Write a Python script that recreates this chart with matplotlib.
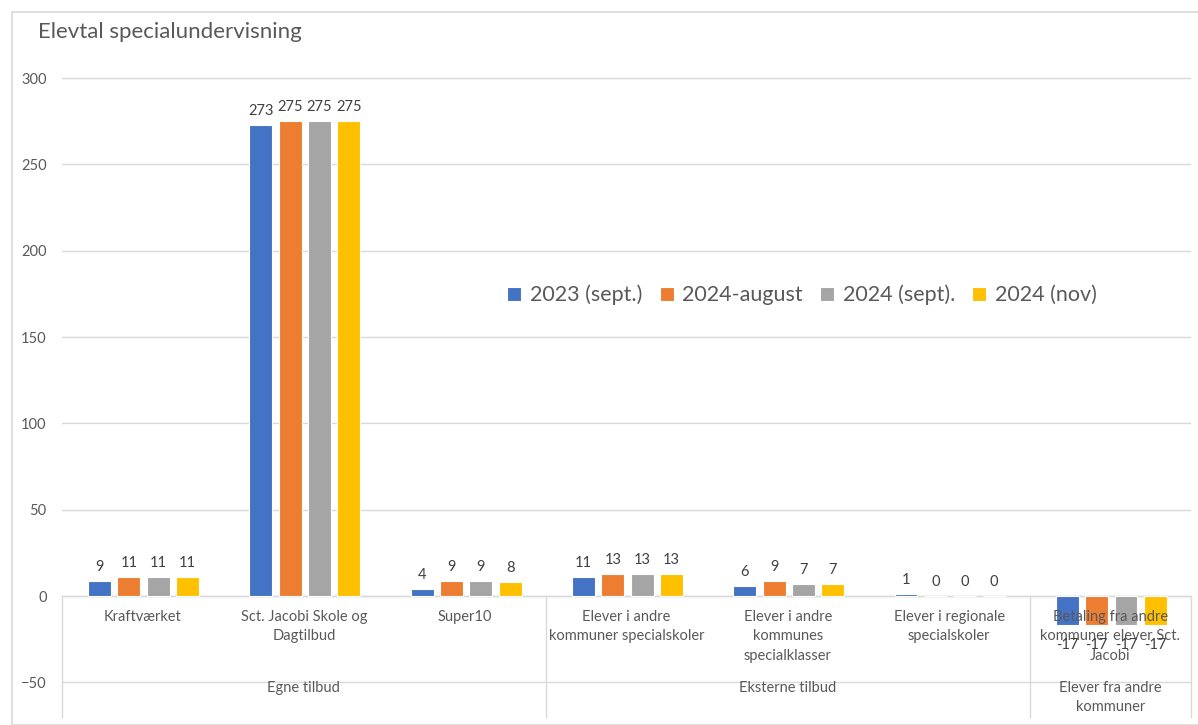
import matplotlib.pyplot as plt
from matplotlib.patches import Rectangle
import numpy as np

plt.rcParams['font.family'] = ['Lato', 'DejaVu Sans']

# data
categories = ['Kraftværket', 'Sct. Jacobi Skole og\nDagtilbud', 'Super10',
              'Elever i andre\nkommuner specialskoler',
              'Elever i andre\nkommunes\nspecialklasser',
              'Elever i regionale\nspecialskoler',
              'Betaling fra andre\nkommuner elever Sct.\nJacobi']
groups = ['Egne tilbud', 'Eksterne tilbud', 'Elever fra andre\nkommuner']
group_centers = [1, 4, 6]
group_bounds = [-0.5, 2.5, 5.5, 6.5]

series = ['2023 (sept.)', '2024-august', '2024 (sept).', '2024 (nov)']
sept_2023 = [9, 273, 4, 11, 6, 1, -17]
august_2024 = [11, 275, 9, 13, 9, 0, -17]
sept_2024 = [11, 275, 9, 13, 7, 0, -17]
nov_2024 = [11, 275, 8, 13, 7, 0, -17]
colors = ['#4472C4', '#ED7D31', '#A5A5A5', '#FFC000']

W, H = 1198, 725
fig = plt.figure(figsize=(W / 100, H / 100), dpi=100)

# chart border (right and bottom edges fall outside the image)
fig.patches.append(Rectangle((12 / W, 0), 1.0, 1 - 12 / H, transform=fig.transFigure,
                             fill=False, edgecolor='#d9d9d9', lw=1.2))

ax = fig.add_axes([62 / W, 8 / H, 1129 / W, 642.4 / H])

x = np.arange(len(categories))
step = 0.182
width = 0.142
for i, (name, vals, c) in enumerate(zip(series, [sept_2023, august_2024, sept_2024, nov_2024], colors)):
    pos = x + (i - 1.5) * step + 0.006
    ax.bar(pos, vals, width, color=c, label=name, edgecolor='white', linewidth=0.8, zorder=2)
    for xp, v in zip(pos, vals):
        if v >= 0:
            ax.annotate(str(v), (xp, v), xytext=(0, 5), textcoords='offset points',
                        ha='center', va='bottom', fontsize=10.5, color='#404040', zorder=6)
        else:
            ax.annotate(str(v), (xp, v), xytext=(0, -9), textcoords='offset points',
                        ha='center', va='top', fontsize=10.5, color='#404040', zorder=6)

ax.set_xlim(-0.5, 6.5)
ax.set_ylim(-70, 302)
ax.set_yticks(range(-50, 301, 50))
ax.set_xticks([])
ax.grid(axis='y', color='#d9d9d9', lw=1, zorder=0)
ax.axhline(0, color='#d9d9d9', lw=1, zorder=1)
for s in ax.spines.values():
    s.set_visible(False)
ax.tick_params(axis='y', length=0, labelsize=10.5, labelcolor='#595959', pad=11)

# category label boxes
for b in group_bounds:
    ax.plot([b, b], [0, -70], color='#d9d9d9', lw=1, clip_on=False, zorder=1)

for i, cat in enumerate(categories):
    ax.text(i, -8, cat, ha='center', va='top', fontsize=10.5, color='#595959',
            linespacing=1.5, zorder=5)
for gc, g in zip(group_centers, groups):
    ax.text(gc, -49, g, ha='center', va='top', fontsize=10.5, color='#595959',
            linespacing=1.5, zorder=5)

fig.text(38 / W, 1 - 32 / H, 'Elevtal specialundervisning', fontsize=16,
         color='#595959', va='center', ha='left')

fig.legend(loc='center', bbox_to_anchor=(802 / W, 1 - 295 / H), ncol=4, frameon=False,
           fontsize=15.5, labelcolor='#595959', handlelength=0.65, handleheight=0.65,
           handletextpad=0.4, columnspacing=0.8)

fig.savefig('out.png', dpi=100)
